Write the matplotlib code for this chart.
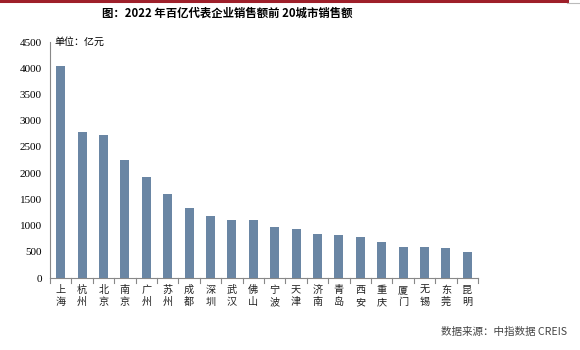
import matplotlib
matplotlib.use("Agg")
import matplotlib.pyplot as plt
from matplotlib.lines import Line2D

plt.rcParams['font.family'] = ['Noto Sans CJK SC', 'DejaVu Sans']

cities = ["上海", "杭州", "北京", "南京", "广州", "苏州", "成都", "深圳", "武汉", "佛山",
          "宁波", "天津", "济南", "青岛", "西安", "重庆", "厦门", "无锡", "东莞", "昆明"]
sales = [4045, 2785, 2730, 2250, 1925, 1600, 1335, 1180, 1105, 1105,
         970, 935, 840, 820, 785, 690, 590, 590, 575, 495]
yticks = [0, 500, 1000, 1500, 2000, 2500, 3000, 3500, 4000, 4500]

title = "图：2022 年百亿代表企业销售额前 20城市销售额"
unit = "单位：亿元"
source = "数据来源：中指数据 CREIS"

fig = plt.figure(figsize=(5.8, 3.5), dpi=100)
ax = fig.add_axes([0.0862, 0.2057, 0.738, 0.674])

x = list(range(len(cities)))
ax.bar(x, sales, width=0.42, color="#6a86a4", zorder=3)

ax.set_xlim(-0.5, len(cities) - 0.5)
ax.set_ylim(0, 4500)
ax.set_yticks(yticks)
ax.set_yticklabels([str(v) for v in yticks], family=['Liberation Serif'], fontsize=8)
ax.tick_params(axis='y', length=0, pad=6)

ax.set_xticks(x)
ax.set_xticklabels(["\n".join(c) for c in cities], fontsize=7.3, linespacing=1.25,
                   color="#222222")
ax.tick_params(axis='x', length=0, pad=5)
# category separators on the x axis
for b in range(len(cities) + 1):
    ax.plot([b - 0.5, b - 0.5], [0, -0.02], transform=ax.get_xaxis_transform(),
            color="#888888", lw=0.8, clip_on=False)

for s in ("top", "right"):
    ax.spines[s].set_visible(False)
ax.spines["left"].set_color("#888888")
ax.spines["bottom"].set_color("#888888")
ax.spines["left"].set_linewidth(0.8)
ax.spines["bottom"].set_linewidth(0.8)

fig.text(0.392, 0.962, title, ha="center", va="center", fontsize=8.2, fontweight="bold")
fig.text(0.093, 0.88, unit, ha="left", va="center", fontsize=7.2)
fig.text(0.977, 0.052, source, ha="right", va="center", fontsize=7.6, color="#444444")

# header rule
fig.add_artist(Line2D([0, 0.978], [0.996, 0.996], transform=fig.transFigure,
                      color="#9e1f2a", lw=2.2))
fig.add_artist(Line2D([0.978, 1.0], [0.992, 0.992], transform=fig.transFigure,
                      color="#bbbbbb", lw=0.8))

fig.savefig("out.png", dpi=100)
